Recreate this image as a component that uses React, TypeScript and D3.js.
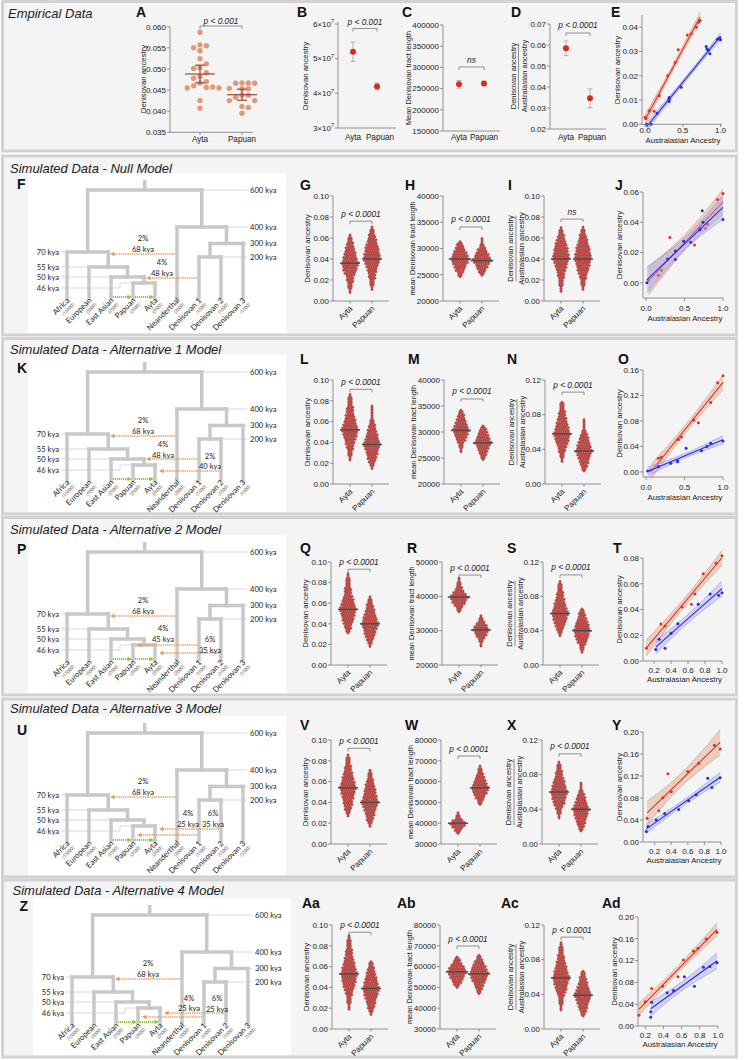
import React from 'react';
import * as d3 from 'd3';

type Swarm = { med: number; k: [number, number][] };
type Pt = [number, number];
type Mig = { pct: string; time: string; src: string; dst: number; y: number; lx: number; ly: [number, number] };

const SANS = "'Liberation Sans', Arial, Helvetica, sans-serif";
const TREEF = "Lato, 'Open Sans', 'DejaVu Sans', sans-serif";

// ---------------- DATA ----------------
const groups = ['Ayta', 'Papuan'];

// Empirical A (individual Denisovan ancestry)
const empA_Ayta = [0.0587, 0.0557, 0.0555, 0.055, 0.0543, 0.0524, 0.0512, 0.0503, 0.0501, 0.0491, 0.0482, 0.0478, 0.047, 0.0467, 0.046, 0.0456, 0.0455, 0.0455, 0.0457, 0.0425, 0.0407];
const empA_Papuan = [0.0467, 0.0466, 0.0466, 0.0467, 0.0454, 0.0453, 0.0453, 0.0438, 0.0438, 0.0433, 0.0425, 0.0425, 0.0411, 0.0409, 0.0395];
const empA_mean = [0.0488, 0.0439];
const empA_err = [0.0021, 0.0013];
const empA_ticks = [0.035, 0.04, 0.045, 0.05, 0.055, 0.06];
// B
const empB_mean = [5.2e7, 4.2e7];
const empB_err = [0.28e7, 0.1e7];
const empB_ticks = [3e7, 4e7, 5e7, 6e7];
// C
const empC_mean = [260000, 262000];
const empC_err = [9000, 5000];
const empC_ticks = [150000, 200000, 250000, 300000, 350000, 400000];
// D
const empD_mean = [0.0584, 0.0346];
const empD_err = [0.0035, 0.0045];
const empD_ticks = [0.02, 0.03, 0.04, 0.05, 0.06, 0.07];
// E
const empE_red: Pt[] = [[0.0, 0.0029], [0.01, 0.0024], [0.058, 0.0056], [0.12, 0.0054], [0.19, 0.0118], [0.3, 0.02], [0.4, 0.0254], [0.44, 0.0307], [0.56, 0.0368], [0.61, 0.0373], [0.68, 0.04], [0.71, 0.042], [0.73, 0.0427]];
const empE_blue: Pt[] = [[0.02, 0.0], [0.08, 0.0], [0.16, 0.0045], [0.32, 0.0094], [0.32, 0.0103], [0.32, 0.011], [0.48, 0.0153], [0.81, 0.032], [0.82, 0.031], [0.84, 0.0305], [0.86, 0.029], [0.96, 0.035], [0.99, 0.0355], [1.0, 0.0348]];

// Simulated swarms: [value, dots per row]
const swG: Swarm[] = [
  { med: 0.036, k: [[0.008, 1], [0.015, 2], [0.022, 3], [0.03, 6], [0.036, 7], [0.045, 5], [0.053, 3], [0.058, 2], [0.063, 1]] },
  { med: 0.040, k: [[0.011, 1], [0.018, 2], [0.025, 3], [0.033, 5], [0.04, 7], [0.05, 6], [0.06, 3], [0.066, 2], [0.071, 1]] },
];
const swH: Swarm[] = [
  { med: 28000, k: [[24600, 1], [25500, 3], [27000, 6], [28000, 8], [29000, 6], [30500, 3], [31500, 1]] },
  { med: 27700, k: [[24900, 1], [26000, 4], [27000, 6], [27700, 8], [28800, 6], [30000, 3], [31000, 1], [32000, 1]] },
];
const swI: Swarm[] = [
  { med: 0.040, k: [[0.009, 1], [0.02, 2], [0.03, 4], [0.04, 7], [0.05, 6], [0.06, 3], [0.066, 2], [0.07, 1]] },
  { med: 0.040, k: [[0.011, 1], [0.02, 2], [0.03, 5], [0.04, 7], [0.05, 6], [0.06, 3], [0.066, 2], [0.071, 1]] },
];
const swL: Swarm[] = [
  { med: 0.052, k: [[0.023, 1], [0.03, 2], [0.04, 4], [0.052, 7], [0.06, 5], [0.07, 3], [0.08, 2], [0.087, 1]] },
  { med: 0.038, k: [[0.015, 1], [0.022, 3], [0.03, 5], [0.038, 7], [0.045, 5], [0.055, 3], [0.065, 1], [0.075, 1]] },
];
const swM: Swarm[] = [
  { med: 30300, k: [[26200, 1], [27500, 2], [29000, 5], [30300, 7], [31500, 5], [33000, 3], [34500, 1]] },
  { med: 27900, k: [[24700, 1], [25800, 3], [27000, 5], [27900, 7], [29000, 5], [30300, 3], [31400, 1]] },
];
const swN: Swarm[] = [
  { med: 0.058, k: [[0.026, 1], [0.035, 2], [0.047, 5], [0.058, 7], [0.068, 5], [0.08, 3], [0.09, 2], [0.096, 1]] },
  { med: 0.038, k: [[0.015, 1], [0.022, 3], [0.03, 5], [0.038, 7], [0.047, 5], [0.057, 3], [0.065, 1], [0.075, 1]] },
];
const swQ: Swarm[] = [
  { med: 0.054, k: [[0.031, 1], [0.037, 3], [0.045, 5], [0.054, 7], [0.062, 5], [0.07, 3], [0.08, 2], [0.089, 1]] },
  { med: 0.040, k: [[0.018, 1], [0.025, 3], [0.032, 5], [0.04, 7], [0.048, 5], [0.056, 3], [0.062, 2], [0.067, 1]] },
];
const swR: Swarm[] = [
  { med: 39800, k: [[35500, 1], [37000, 3], [38500, 6], [39800, 8], [41000, 5], [43000, 2], [45300, 1]] },
  { med: 30200, k: [[25500, 1], [27500, 2], [29000, 5], [30200, 7], [31500, 5], [33000, 2], [34500, 1]] },
];
const swS: Swarm[] = [
  { med: 0.060, k: [[0.034, 1], [0.042, 3], [0.05, 5], [0.06, 7], [0.07, 5], [0.08, 3], [0.09, 2], [0.098, 1]] },
  { med: 0.040, k: [[0.015, 1], [0.022, 2], [0.03, 5], [0.04, 7], [0.05, 5], [0.058, 3], [0.063, 2], [0.067, 1]] },
];
const swV: Swarm[] = [
  { med: 0.054, k: [[0.027, 1], [0.035, 3], [0.045, 5], [0.054, 7], [0.062, 5], [0.072, 3], [0.08, 2], [0.086, 1]] },
  { med: 0.040, k: [[0.017, 1], [0.025, 3], [0.033, 5], [0.04, 7], [0.05, 5], [0.06, 3], [0.066, 2], [0.071, 1]] },
];
const swW: Swarm[] = [
  { med: 40000, k: [[35000, 1], [37000, 3], [39000, 6], [40000, 7], [41500, 4], [43000, 2], [45000, 1]] },
  { med: 57000, k: [[49000, 1], [51500, 3], [54500, 6], [57000, 7], [60000, 5], [63000, 3], [65500, 2], [67500, 1]] },
];
const swX: Swarm[] = [
  { med: 0.060, k: [[0.03, 1], [0.038, 2], [0.048, 5], [0.06, 7], [0.07, 5], [0.08, 3], [0.09, 2], [0.095, 1]] },
  { med: 0.040, k: [[0.015, 1], [0.022, 3], [0.03, 5], [0.04, 7], [0.048, 5], [0.056, 3], [0.065, 1], [0.071, 1]] },
];
const swAa: Swarm[] = [
  { med: 0.053, k: [[0.019, 1], [0.03, 2], [0.042, 5], [0.053, 7], [0.062, 5], [0.072, 3], [0.08, 2], [0.091, 1]] },
  { med: 0.039, k: [[0.014, 1], [0.022, 3], [0.03, 5], [0.039, 7], [0.048, 5], [0.057, 3], [0.063, 2], [0.066, 1]] },
];
const swAb: Swarm[] = [
  { med: 57500, k: [[50000, 1], [52500, 4], [55000, 6], [57500, 8], [60000, 6], [62500, 3], [65000, 1]] },
  { med: 56500, k: [[47000, 1], [50000, 3], [53500, 6], [56500, 8], [59500, 6], [63000, 3], [66000, 1]] },
];
const swAc: Swarm[] = [
  { med: 0.059, k: [[0.022, 1], [0.035, 2], [0.048, 5], [0.059, 7], [0.07, 5], [0.08, 3], [0.09, 2], [0.101, 1]] },
  { med: 0.039, k: [[0.015, 1], [0.022, 3], [0.03, 5], [0.039, 7], [0.048, 5], [0.056, 3], [0.063, 2], [0.067, 1]] },
];

// Simulated scatter (Ayta = red, Papuan = blue)
const scJ_red: Pt[] = [[0.03, 0.0015], [0.16, 0.005], [0.2, 0.0084], [0.31, 0.03], [0.63, 0.025], [0.7, 0.036], [0.77, 0.036], [0.8, 0.0387], [0.93, 0.055], [1.0, 0.059]];
const scJ_blue: Pt[] = [[0.01, 0.0], [0.28, 0.0158], [0.38, 0.021], [0.38, 0.0154], [0.49, 0.0275], [0.58, 0.0268], [0.73, 0.0477], [0.74, 0.04], [0.7, 0.035], [1.0, 0.0418]];
const scO_red: Pt[] = [[0.06, 0.003], [0.16, 0.0215], [0.2, 0.023], [0.42, 0.051], [0.46, 0.055], [0.62, 0.0815], [0.68, 0.077], [0.84, 0.109], [0.93, 0.14], [1.0, 0.151]];
const scO_blue: Pt[] = [[0.02, 0.0016], [0.16, 0.0084], [0.32, 0.0136], [0.41, 0.0177], [0.41, 0.016], [0.52, 0.037], [0.72, 0.0334], [0.79, 0.0397], [0.84, 0.045], [1.0, 0.0486]];
const scT_red: Pt[] = [[0.11, 0.0099], [0.28, 0.0288], [0.33, 0.0272], [0.53, 0.042], [0.64, 0.044], [0.68, 0.052], [0.78, 0.0677], [0.93, 0.076], [1.0, 0.0817]];
const scT_blue: Pt[] = [[0.22, 0.009], [0.26, 0.0169], [0.33, 0.01], [0.4, 0.0215], [0.48, 0.029], [0.72, 0.044], [0.86, 0.052], [0.96, 0.051], [1.0, 0.053]];
const scY_red: Pt[] = [[0.11, 0.043], [0.25, 0.057], [0.3, 0.0805], [0.36, 0.124], [0.4, 0.0915], [0.6, 0.128], [0.73, 0.143], [0.92, 0.176], [0.99, 0.169]];
const scY_blue: Pt[] = [[0.1, 0.019], [0.12, 0.028], [0.22, 0.04], [0.32, 0.052], [0.49, 0.059], [0.61, 0.075], [0.7, 0.086], [0.84, 0.116], [0.89, 0.099], [0.99, 0.117]];
const scAd_red: Pt[] = [[0.13, 0.0196], [0.2, 0.0446], [0.27, 0.069], [0.39, 0.073], [0.56, 0.0905], [0.62, 0.121], [0.73, 0.1376], [0.78, 0.1425], [0.87, 0.1596], [0.99, 0.172]];
const scAd_blue: Pt[] = [[0.26, 0.026], [0.26, 0.016], [0.27, 0.0435], [0.44, 0.061], [0.51, 0.065], [0.63, 0.0905], [0.74, 0.073], [0.84, 0.108], [0.91, 0.109], [0.99, 0.116]];

// Tree
const treeLeaves = ['Africa', 'European', 'East Asian', 'Papuan', 'Ayta', 'Neanderthal', 'Denisovan 1', 'Denisovan 2', 'Denisovan 3'];
const treeLeafN = ['15000', '5000', '2500', '3500', '3500', '2000', '1500', '1500', '1500'];
const treeMerges: [number, string, string, string][] = [
  [46, 'Papuan', 'Ayta', 'PA'],
  [50, 'East Asian', 'PA', 'EPA'],
  [55, 'European', 'EPA', 'NAF'],
  [70, 'Africa', 'NAF', 'AMH'],
  [200, 'Denisovan 1', 'Denisovan 2', 'D12'],
  [300, 'D12', 'Denisovan 3', 'DEN'],
  [400, 'Neanderthal', 'DEN', 'ARC'],
  [600, 'AMH', 'ARC', 'ROOT'],
];
const treeTimes = [600, 400, 300, 200, 70, 55, 50, 46, 0];
const leftTimes = [70, 55, 50, 46];
const rightTimes = [600, 400, 300, 200];

const mig68: Mig = { pct: '2%', time: '68 kya', src: 'Neanderthal', dst: 110, y: 254, lx: 143, ly: [238, 249] };
const migNull: Mig[] = [mig68, { pct: '4%', time: '48 kya', src: 'Denisovan 1', dst: 146, y: 278, lx: 162, ly: [262, 273] }];
const migAlt1: Mig[] = [mig68,
  { pct: '4%', time: '48 kya', src: 'Denisovan 1', dst: 146, y: 277, lx: 163, ly: [262, 273] },
  { pct: '2%', time: '40 kya', src: 'Denisovan 2', dst: 159, y: 289, lx: 210, ly: [274, 284] }];
const migAlt2: Mig[] = [mig68,
  { pct: '4%', time: '45 kya', src: 'Denisovan 1', dst: 137, y: 283, lx: 163, ly: [266, 277] },
  { pct: '6%', time: '35 kya', src: 'Denisovan 2', dst: 159, y: 291, lx: 210, ly: [277, 288] }];
const migAlt3: Mig[] = [mig68,
  { pct: '6%', time: '35 kya', src: 'Denisovan 2', dst: 159, y: 286, lx: 213, ly: [270, 281] },
  { pct: '4%', time: '25 kya', src: 'Denisovan 1', dst: 137, y: 292, lx: 188, ly: [270, 281] }];
const migAlt4: Mig[] = [mig68,
  { pct: '6%', time: '25 kya', src: 'Denisovan 2', dst: 159, y: 288, lx: 212, ly: [273, 284] },
  { pct: '4%', time: '25 kya', src: 'Denisovan 1', dst: 137, y: 292, lx: 184, ly: [273, 283] }];

const simModels = [
  { title: 'Simulated Data - Null Model', tree: 'F', letters: ['G', 'H', 'I', 'J'], sw: [swG, swH, swI], p: ['p < 0.0001', 'p < 0.0001', 'ns'], br: [0.076, 34100, 0.078],
    dom: [[0, 0.1], [20000, 40000], [0, 0.1]], step: [0.02, 5000, 0.02], red: scJ_red, blue: scJ_blue, sxDom: [-0.04, 1], sxTicks: [0, 0.5, 1], syDom: [-0.01, 0.06], syTicks: [0, 0.02, 0.04, 0.06], mig: migNull },
  { title: 'Simulated Data - Alternative 1 Model', tree: 'K', letters: ['L', 'M', 'N', 'O'], sw: [swL, swM, swN], p: ['p < 0.0001', 'p < 0.0001', 'p < 0.0001'], br: [0.091, 36350, 0.106],
    dom: [[0, 0.1], [20000, 40000], [0, 0.12]], step: [0.02, 5000, 0.04], red: scO_red, blue: scO_blue, sxDom: [-0.04, 1], sxTicks: [0, 0.5, 1], syDom: [-0.008, 0.16], syTicks: [0, 0.04, 0.08, 0.12, 0.16], mig: migAlt1 },
  { title: 'Simulated Data - Alternative 2 Model', tree: 'P', letters: ['Q', 'R', 'S', 'T'], sw: [swQ, swR, swS], p: ['p < 0.0001', 'p < 0.0001', 'p < 0.0001'], br: [0.093, 46200, 0.105],
    dom: [[0, 0.1], [20000, 50000], [0, 0.12]], step: [0.02, 10000, 0.04], red: scT_red, blue: scT_blue, sxDom: [0.07, 1], sxTicks: [0.2, 0.4, 0.6, 0.8, 1], syDom: [0, 0.08], syTicks: [0, 0.02, 0.04, 0.06, 0.08], mig: migAlt2 },
  { title: 'Simulated Data - Alternative 3 Model', tree: 'U', letters: ['V', 'W', 'X', 'Y'], sw: [swV, swW, swX], p: ['p < 0.0001', 'p < 0.0001', 'p < 0.0001'], br: [0.092, 72300, 0.104],
    dom: [[0, 0.1], [30000, 80000], [0, 0.12]], step: [0.02, 10000, 0.04], red: scY_red, blue: scY_blue, sxDom: [0.06, 1], sxTicks: [0.2, 0.4, 0.6, 0.8, 1], syDom: [0, 0.2], syTicks: [0, 0.04, 0.08, 0.12, 0.16, 0.2], mig: migAlt3 },
  { title: 'Simulated Data - Alternative 4 Model', tree: 'Z', letters: ['Aa', 'Ab', 'Ac', 'Ad'], sw: [swAa, swAb, swAc], p: ['p < 0.0001', 'p < 0.0001', 'p < 0.0001'], br: [0.093, 69900, 0.106],
    dom: [[0, 0.1], [30000, 80000], [0, 0.12]], step: [0.02, 10000, 0.04], red: scAd_red, blue: scAd_blue, sxDom: [0.12, 1], sxTicks: [0.2, 0.4, 0.6, 0.8, 1], syDom: [0, 0.2], syTicks: [0, 0.04, 0.08, 0.12, 0.16, 0.2], mig: migAlt4 },
];

// ---------------- LAYOUT ----------------
const rowLay = [
  { panel: [156, 335], top: 196, bottom: 301, ax: [333, 443, 544], lx: [300, 405, 508, 615], ly: 190, sx: [643, 723], sy: [298, 192], xlab: 305, xtitle: 316, title: 173, treeY: 189, dx: 0, dy: 0 },
  { panel: [338.5, 514], top: 380, bottom: 484, ax: [333, 444, 545], lx: [300, 408, 507, 618], ly: 364, sx: [643, 723], sy: [477, 370], xlab: 484, xtitle: 495, title: 354, treeY: 373, dx: 0, dy: 182 },
  { panel: [517.5, 695], top: 562, bottom: 665, ax: [331, 442, 543], lx: [300, 407, 507, 613], ly: 553, sx: [643, 722], sy: [661, 558], xlab: 667, xtitle: 677, title: 534, treeY: 554, dx: 0, dy: 362 },
  { panel: [699, 877], top: 740, bottom: 844, ax: [331, 441, 542], lx: [300, 405, 507, 612], ly: 730, sx: [643, 721], sy: [842, 732], xlab: 848, xtitle: 858, title: 713, treeY: 735, dx: 0, dy: 543 },
  { panel: [880, 1057], top: 925, bottom: 1029, ax: [332, 440, 544], lx: [302, 397, 501, 602], ly: 908, sx: [638, 718], sy: [1026, 917], xlab: 1032, xtitle: 1042, title: 895, treeY: 911, dx: 5, dy: 725 },
];

const RED = '#d8302a';
const BLUE = '#2a2ae6';
const AX = '#7a7a7a';
const TXT = '#222';
const TICKFS = 8;
const LETTERFS = 14;
const TITLEFS = 13;

const f2 = d3.format('.2f');
const f3 = d3.format('.3f');
const fInt = d3.format('d');
const f1 = d3.format('.1f');

// ---------------- HELPERS ----------------
function fit(pts: Pt[]) {
  const n = pts.length;
  const mx = d3.mean(pts, p => p[0]) as number;
  const my = d3.mean(pts, p => p[1]) as number;
  const sxx = d3.sum(pts, p => (p[0] - mx) ** 2);
  const sxy = d3.sum(pts, p => (p[0] - mx) * (p[1] - my));
  const b = sxy / sxx;
  const a = my - b * mx;
  const s = Math.sqrt(d3.sum(pts, p => (p[1] - a - b * p[0]) ** 2) / (n - 2));
  return { a, b, se: (x: number) => s * Math.sqrt(1 / n + (x - mx) ** 2 / sxx) };
}

function YAxis({ x, y, ticks, fmt, tickLen = 3, fs = TICKFS }: { x: number; y: d3.ScaleLinear<number, number>; ticks: number[]; fmt: (n: number) => string; tickLen?: number; fs?: number }) {
  const r = y.range();
  return (
    <g>
      <line x1={x} x2={x} y1={r[0]} y2={r[1]} stroke={AX} strokeWidth={0.8} />
      {ticks.map((t, i) => (
        <g key={i}>
          <line x1={x - tickLen} x2={x} y1={y(t)} y2={y(t)} stroke={AX} strokeWidth={0.8} />
          <text x={x - tickLen - 1} y={y(t)} dy="0.35em" textAnchor="end" fontSize={fs} fill={TXT}>{fmt(t)}</text>
        </g>
      ))}
    </g>
  );
}

function VLabel({ x, y, text, fs = 7.8 }: { x: number; y: number; text: string; fs?: number }) {
  return <text transform={`translate(${x},${y}) rotate(-90)`} textAnchor="middle" dy="0.35em" fontSize={fs} fill={TXT}>{text}</text>;
}

function FracLabel({ x, y, fs = 7.6 }: { x: number; y: number; fs?: number }) {
  return (
    <g>
      <VLabel x={x - 5.5} y={y} text="Denisovan ancestry" fs={fs} />
      <line x1={x} x2={x} y1={y - 33} y2={y + 33} stroke="#444" strokeWidth={0.6} />
      <VLabel x={x + 5.5} y={y} text="Australasian ancestry" fs={fs} />
    </g>
  );
}

function Bracket({ x0, x1, y, label, dyText = -4 }: { x0: number; x1: number; y: number; label: string; dyText?: number }) {
  return (
    <g>
      <path d={`M${x0},${y + 3}V${y}H${x1}V${y + 3}`} fill="none" stroke="#666" strokeWidth={0.7} />
      <text x={(x0 + x1) / 2} y={y + dyText} textAnchor="middle" fontSize={8.3} fontStyle="italic" fill={TXT}>{label}</text>
    </g>
  );
}

function SwarmDots({ s, cx, y }: { s: Swarm; cx: number; y: d3.ScaleLinear<number, number> }) {
  const interp = d3.scaleLinear().domain(s.k.map(d => d[0])).range(s.k.map(d => d[1]));
  const lo = s.k[0][0];
  const hi = s.k[s.k.length - 1][0];
  const dots: [number, number][] = [];
  let row = 0;
  for (let py = y(lo); py >= y(hi) - 0.01; py -= 1.6, row++) {
    const n = Math.max(1, Math.round(interp(y.invert(py))));
    const shift = n > 2 ? (row % 2 ? 0.55 : -0.55) : 0;
    for (let i = 0; i < n; i++) dots.push([cx + (i - (n - 1) / 2) * 2.3 + shift, py]);
  }
  const half = (Math.round(interp(s.med)) * 2.3) / 2 + 2;
  return (
    <g>
      {dots.map((d, i) => <circle key={i} cx={d[0]} cy={d[1]} r={1.25} fill="#d93430" stroke="#7c7c7c" strokeWidth={0.35} />)}
      <line x1={cx - half} x2={cx + half} y1={y(s.med)} y2={y(s.med)} stroke="#4d4d4d" strokeWidth={1.5} />
    </g>
  );
}

function SwarmChart({ ax, top, bottom, dom, step, fmt, sw, br, p, kind }: { ax: number; top: number; bottom: number; dom: number[]; step: number; fmt: (n: number) => string; sw: Swarm[]; br: number; p: string; kind: number }) {
  const y = d3.scaleLinear().domain(dom).range([bottom, top]);
  const ticks = d3.range(dom[0], dom[1] + step / 2, step);
  const cx = [ax + 17, ax + 39];
  const mid = (top + bottom) / 2;
  return (
    <g>
      {sw.map((s, i) => <SwarmDots key={i} s={s} cx={cx[i]} y={y} />)}
      <YAxis x={ax} y={y} ticks={ticks} fmt={fmt} />
      <line x1={ax} x2={ax + 56} y1={bottom} y2={bottom} stroke={AX} strokeWidth={0.8} />
      {cx.map((c, i) => <line key={i} x1={c} x2={c} y1={bottom} y2={bottom + 2.5} stroke={AX} strokeWidth={0.8} />)}
      {groups.map((g, i) => (
        <text key={g} transform={`translate(${cx[i] + 3},${bottom + 8}) rotate(-45)`} textAnchor="end" fontSize={8} fill={TXT}>{g}</text>
      ))}
      <Bracket x0={cx[0]} x1={cx[1]} y={y(br)} label={p} dyText={-4.5} />
      {kind === 0 && <VLabel x={ax - 26} y={mid} text="Denisovan ancestry" />}
      {kind === 1 && <VLabel x={ax - 31} y={mid} text="mean Denisovan tract length" fs={7.4} />}
      {kind === 2 && <FracLabel x={ax - 28} y={mid} />}
    </g>
  );
}

function FitLayer({ pts, x, y, color, band, edge }: { pts: Pt[]; x: d3.ScaleLinear<number, number>; y: d3.ScaleLinear<number, number>; color: string; band: string; edge: string }) {
  const f = fit(pts);
  const ext = d3.extent(pts, p => p[0]) as [number, number];
  const xs = d3.range(0, 41).map(i => ext[0] + (ext[1] - ext[0]) * i / 40);
  const tq = 2.3;
  const area = d3.area<number>().x(v => x(v)).y0(v => y(f.a + f.b * v - tq * f.se(v))).y1(v => y(f.a + f.b * v + tq * f.se(v)));
  const lo = d3.line<number>().x(v => x(v)).y(v => y(f.a + f.b * v - tq * f.se(v)));
  const hi = d3.line<number>().x(v => x(v)).y(v => y(f.a + f.b * v + tq * f.se(v)));
  return (
    <g>
      <path d={area(xs) || ''} fill={band} opacity={0.45} />
      <path d={lo(xs) || ''} fill="none" stroke={edge} strokeWidth={0.5} />
      <path d={hi(xs) || ''} fill="none" stroke={edge} strokeWidth={0.5} />
      <line x1={x(ext[0])} x2={x(ext[1])} y1={y(f.a + f.b * ext[0])} y2={y(f.a + f.b * ext[1])} stroke={color} strokeWidth={1.1} />
      {pts.map((p, i) => <circle key={i} cx={x(p[0])} cy={y(p[1])} r={1.5} fill={color} />)}
    </g>
  );
}

function Scatter({ red, blue, x, y, xTicks, xFmt, yTicks, yFmt, axisX, xlabY, xtitleY }: { red: Pt[]; blue: Pt[]; x: d3.ScaleLinear<number, number>; y: d3.ScaleLinear<number, number>; xTicks: number[]; xFmt: (n: number) => string; yTicks: number[]; yFmt: (n: number) => string; axisX: number; xlabY: number; xtitleY: number }) {
  const yr = y.range();
  const xr = x.range();
  return (
    <g>
      <FitLayer pts={red} x={x} y={y} color="#e0302a" band="#dd9f7e" edge="#d98b6b" />
      <FitLayer pts={blue} x={x} y={y} color={BLUE} band="#a9a9f2" edge="#8080ee" />
      <YAxis x={axisX} y={y} ticks={yTicks} fmt={yFmt} />
      <line x1={axisX} x2={xr[1]} y1={yr[0]} y2={yr[0]} stroke={AX} strokeWidth={0.8} />
      {xTicks.map((t, i) => (
        <g key={i}>
          <line x1={x(t)} x2={x(t)} y1={yr[0]} y2={yr[0] + 3} stroke={AX} strokeWidth={0.8} />
          <text x={x(t)} y={xlabY} dy="0.7em" textAnchor="middle" fontSize={TICKFS} fill={TXT}>{xFmt(t)}</text>
        </g>
      ))}
      <text x={(xr[0] + xr[1]) / 2 + 2} y={xtitleY} dy="0.7em" textAnchor="middle" fontSize={7.8} fill={TXT}>Australasian Ancestry</text>
      <VLabel x={axisX - 24} y={(yr[0] + yr[1]) / 2} text="Denisovan ancestry" />
    </g>
  );
}

function Tree({ dx, dy, boxBottom, migs }: { dx: number; dy: number; boxBottom: number; migs: Mig[] }) {
  const xL = d3.scalePoint<string>().domain(treeLeaves).range([67, 243]);
  const ty = d3.scaleOrdinal<number, number>().domain(treeTimes).range([190, 227, 243.5, 257, 252, 267, 277, 283, 298]);
  const pos: Record<string, { x: number; y: number }> = {};
  const parentY: Record<string, number> = {};
  treeLeaves.forEach(l => { pos[l] = { x: xL(l) as number, y: ty(0) }; });
  const mergeOf: Record<number, [string, string]> = {};
  treeMerges.forEach(([t, a, b, id]) => {
    pos[id] = { x: (pos[a].x + pos[b].x) / 2, y: ty(t) };
    parentY[a] = ty(t);
    parentY[b] = ty(t);
    mergeOf[t] = [a, b];
  });
  const LC = '#c8c8c8';
  const thin = '#d4d4d4';
  const OR = '#e39a5d';
  const GR = '#8dc641';
  const greenY = 297;
  return (
    <g transform={`translate(${dx},${dy})`} fontFamily={TREEF}>
      <rect x={28} y={173} width={258} height={boxBottom - dy - 173} fill="#ffffff" />
      {leftTimes.map(t => {
        const a = mergeOf[t][0];
        const yy = ty(t);
        if (t === 46) {
          return (
            <g key={t}>
              <path d={`M61,${yy + 5}H120V${yy}H${pos[a].x - 2}`} fill="none" stroke={thin} strokeWidth={0.9} />
              <text x={59} y={yy + 5} dy="0.35em" textAnchor="end" fontSize={7.6} fill={TXT}>{`${t} kya`}</text>
            </g>
          );
        }
        return (
          <g key={t}>
            <line x1={61} x2={pos[a].x - 2} y1={yy} y2={yy} stroke={thin} strokeWidth={0.9} />
            <text x={59} y={yy} dy="0.35em" textAnchor="end" fontSize={7.6} fill={TXT}>{`${t} kya`}</text>
          </g>
        );
      })}
      {rightTimes.map(t => {
        const b = mergeOf[t][1];
        const yy = ty(t);
        return (
          <g key={t}>
            <line x1={pos[b].x + 2} x2={247} y1={yy} y2={yy} stroke={thin} strokeWidth={0.9} />
            <text x={250} y={yy} dy="0.35em" textAnchor="start" fontSize={7.6} fill={TXT}>{`${t} kya`}</text>
          </g>
        );
      })}
      {Object.keys(pos).map(k => (
        k === 'ROOT'
          ? <line key={k} x1={pos[k].x} x2={pos[k].x} y1={pos[k].y} y2={pos[k].y - 10} stroke={LC} strokeWidth={3.5} />
          : <line key={k} x1={pos[k].x} x2={pos[k].x} y1={pos[k].y} y2={parentY[k]} stroke={LC} strokeWidth={3.5} strokeLinecap="square" />
      ))}
      {treeMerges.map(([t, a, b]) => (
        <line key={t} x1={pos[a].x} x2={pos[b].x} y1={ty(t)} y2={ty(t)} stroke={LC} strokeWidth={3.5} strokeLinecap="square" />
      ))}
      {migs.map((m, i) => (
        <g key={i}>
          <line x1={pos[m.src].x - 2} x2={m.dst + 4} y1={m.y} y2={m.y} stroke={OR} strokeWidth={1.5} strokeDasharray="1.3 0.9" />
          <polygon points={`${m.dst},${m.y} ${m.dst + 4.5},${m.y - 2.3} ${m.dst + 4.5},${m.y + 2.3}`} fill={OR} />
          <text x={m.lx} y={m.ly[0]} dy="0.35em" textAnchor="middle" fontSize={7.6} fill={TXT}>{m.pct}</text>
          <text x={m.lx} y={m.ly[1]} dy="0.35em" textAnchor="middle" fontSize={7.6} fill={TXT}>{m.time}</text>
        </g>
      ))}
      {[['East Asian', 'Papuan'], ['Papuan', 'Ayta']].map(([a, b], i) => (
        <g key={i}>
          <line x1={pos[a].x + 2} x2={pos[b].x - 5} y1={greenY} y2={greenY} stroke={GR} strokeWidth={2} strokeDasharray="1.2 0.8" />
          <polygon points={`${pos[b].x - 1},${greenY} ${pos[b].x - 5.5},${greenY - 2.3} ${pos[b].x - 5.5},${greenY + 2.3}`} fill={GR} />
        </g>
      ))}
      {treeLeaves.map((l, i) => (
        <g key={l}>
          <text transform={`translate(${pos[l].x + 3},${301}) rotate(-45)`} textAnchor="end" fontSize={7.8} fill={TXT}>{l}</text>
          <text transform={`translate(${pos[l].x + 7.5},${305}) rotate(-45)`} textAnchor="end" fontSize={4.4} fill="#444">{`(${treeLeafN[i]})`}</text>
        </g>
      ))}
    </g>
  );
}

function beeswarm(vals: number[], y: (v: number) => number, cx: number, r: number) {
  const placed: { x: number; y: number }[] = [];
  const sorted = [...vals].sort((a, b) => b - a);
  for (const v of sorted) {
    const py = y(v);
    for (let k = 0; k < 40; k++) {
      const off = (k === 0 ? 0 : Math.ceil(k / 2) * (k % 2 ? 1 : -1)) * (r * 2.35);
      const px = cx + off;
      if (placed.every(q => (q.x - px) ** 2 + (q.y - py) ** 2 >= (2 * r + 0.3) ** 2)) {
        placed.push({ x: px, y: py });
        break;
      }
    }
  }
  return placed;
}

function ErrDot({ x, y, v, e, color = '#d52b24' }: { x: number; y: d3.ScaleLinear<number, number>; v: number; e: number; color?: string }) {
  return (
    <g>
      <line x1={x} x2={x} y1={y(v - e)} y2={y(v + e)} stroke="#aaaaaa" strokeWidth={0.9} />
      <line x1={x - 2.5} x2={x + 2.5} y1={y(v - e)} y2={y(v - e)} stroke="#aaaaaa" strokeWidth={0.9} />
      <line x1={x - 2.5} x2={x + 2.5} y1={y(v + e)} y2={y(v + e)} stroke="#aaaaaa" strokeWidth={0.9} />
      <circle cx={x} cy={y(v)} r={3} fill={color} />
    </g>
  );
}

function CatLabels({ xs, y }: { xs: number[]; y: number }) {
  return <g>{groups.map((g, i) => <text key={g} x={xs[i]} y={y} textAnchor="middle" fontSize={8.2} fill={TXT}>{g}</text>)}</g>;
}

function Empirical() {
  const yA = d3.scaleLinear().domain([0.035, 0.06]).range([132.3, 26.7]);
  const cxA = [200, 242];
  const dotsA = [beeswarm(empA_Ayta, yA, cxA[0], 2.7), beeswarm(empA_Papuan, yA, cxA[1], 2.7)];
  const yB = d3.scaleLinear().domain([3e7, 6e7]).range([128, 24]);
  const cxB = [353, 377];
  const yC = d3.scaleLinear().domain([150000, 400000]).range([131, 25]);
  const cxC = [459, 484];
  const yD = d3.scaleLinear().domain([0.02, 0.07]).range([129, 24]);
  const cxD = [566, 590];
  const xE = d3.scaleLinear().domain([-0.04, 1]).range([642, 720.5]);
  const yE = d3.scaleLinear().domain([0, 0.045]).range([124.3, 15]);
  return (
    <g>
      <text x={8} y={18} fontSize={TITLEFS} fontStyle="italic" fill={TXT}>Empirical Data</text>
      {[['A', 136], ['B', 297], ['C', 402], ['D', 511], ['E', 611]].map(([l, x]) => (
        <text key={l as string} x={x as number} y={17} fontSize={LETTERFS} fontWeight="bold" fill="#111">{l}</text>
      ))}
      {dotsA.map((ds, gi) => ds.map((d, i) => <circle key={`${gi}-${i}`} cx={d.x} cy={d.y} r={2.7} fill="#dd9a77" />))}
      {empA_mean.map((m, i) => (
        <g key={i}>
          <line x1={cxA[i] - 15} x2={cxA[i] + 15} y1={yA(m)} y2={yA(m)} stroke="#a3463b" strokeWidth={1.2} />
          <line x1={cxA[i]} x2={cxA[i]} y1={yA(m - empA_err[i])} y2={yA(m + empA_err[i])} stroke="#a3463b" strokeWidth={1.2} />
          <line x1={cxA[i] - 5} x2={cxA[i] + 5} y1={yA(m - empA_err[i])} y2={yA(m - empA_err[i])} stroke="#a3463b" strokeWidth={1.2} />
          <line x1={cxA[i] - 5} x2={cxA[i] + 5} y1={yA(m + empA_err[i])} y2={yA(m + empA_err[i])} stroke="#a3463b" strokeWidth={1.2} />
        </g>
      ))}
      <YAxis x={170} y={yA} ticks={empA_ticks} fmt={f3} />
      <line x1={170} x2={253} y1={132.3} y2={132.3} stroke={AX} strokeWidth={0.8} />
      {cxA.map((c, i) => <line key={i} x1={c} x2={c} y1={132.3} y2={135} stroke={AX} strokeWidth={0.8} />)}
      <CatLabels xs={cxA} y={142} />
      <Bracket x0={cxA[0]} x1={cxA[1]} y={26} label="p < 0.001" dyText={-2.5} />
      <VLabel x={143} y={79} text="Denisovan ancestry" />
      {empB_mean.map((m, i) => <ErrDot key={i} x={cxB[i]} y={yB} v={m} e={empB_err[i]} />)}
      <line x1={338} x2={338} y1={128} y2={22} stroke={AX} strokeWidth={0.8} />
      {empB_ticks.map((t, i) => (
        <g key={i}>
          <line x1={335} x2={338} y1={yB(t)} y2={yB(t)} stroke={AX} strokeWidth={0.8} />
          <text x={334} y={yB(t)} dy="0.35em" textAnchor="end" fontSize={TICKFS} fill={TXT}>
            {`${t / 1e7}×10`}<tspan dy="-3.5" fontSize={5.5}>7</tspan>
          </text>
        </g>
      ))}
      <line x1={338} x2={396} y1={128} y2={128} stroke={AX} strokeWidth={0.8} />
      <CatLabels xs={[353, 380]} y={140} />
      <Bracket x0={cxB[0]} x1={cxB[1]} y={28.5} label="p < 0.001" dyText={-4} />
      <VLabel x={305} y={76} text="Denisovan ancestry" />
      {empC_mean.map((m, i) => <ErrDot key={i} x={cxC[i]} y={yC} v={m} e={empC_err[i]} />)}
      <YAxis x={443} y={yC} ticks={empC_ticks} fmt={fInt} />
      <line x1={443} x2={500} y1={131} y2={131} stroke={AX} strokeWidth={0.8} />
      <CatLabels xs={cxC} y={140} />
      <Bracket x0={cxC[0]} x1={cxC[1]} y={67} label="ns" dyText={-4} />
      <VLabel x={408} y={78} text="Mean Denisovan tract length" fs={7.4} />
      {empD_mean.map((m, i) => <ErrDot key={i} x={cxD[i]} y={yD} v={m} e={empD_err[i]} />)}
      <YAxis x={550} y={yD} ticks={empD_ticks} fmt={f2} />
      <line x1={550} x2={606} y1={129} y2={129} stroke={AX} strokeWidth={0.8} />
      <CatLabels xs={[566, 592]} y={140} />
      <Bracket x0={cxD[0]} x1={cxD[1]} y={33} label="p < 0.0001" dyText={-5} />
      <FracLabel x={518.5} y={76} />
      <FitLayer pts={empE_red} x={xE} y={yE} color="#e0302a" band="#dd9f7e" edge="#d98b6b" />
      <FitLayer pts={empE_blue} x={xE} y={yE} color={BLUE} band="#a9a9f2" edge="#8080ee" />
      <YAxis x={642} y={yE} ticks={[0, 0.01, 0.02, 0.03, 0.04]} fmt={f2} />
      <line x1={642} x2={722} y1={124.3} y2={124.3} stroke={AX} strokeWidth={0.8} />
      {[0, 0.5, 1].map((t, i) => (
        <g key={i}>
          <line x1={xE(t)} x2={xE(t)} y1={124.3} y2={127} stroke={AX} strokeWidth={0.8} />
          <text x={xE(t)} y={127} dy="0.8em" textAnchor="middle" fontSize={TICKFS} fill={TXT}>{f1(t)}</text>
        </g>
      ))}
      <text x={683} y={138} dy="0.7em" textAnchor="middle" fontSize={7.8} fill={TXT}>Australasian Ancestry</text>
      <VLabel x={617} y={70} text="Denisovan ancestry" />
    </g>
  );
}

function SimRow({ m, L }: { m: typeof simModels[number]; L: typeof rowLay[number] }) {
  const fmts = m.step.map(s => (s >= 1000 ? fInt : f2));
  const sx = d3.scaleLinear().domain(m.sxDom).range(L.sx);
  const sy = d3.scaleLinear().domain(m.syDom).range(L.sy);
  return (
    <g>
      <Tree dx={L.dx} dy={L.dy} boxBottom={L.panel[1] - 2} migs={m.mig} />
      <text x={10 + L.dx / 2} y={L.title} fontSize={TITLEFS} fontStyle="italic" fill={TXT}>{m.title}</text>
      <text x={17 + L.dx / 2} y={L.treeY} fontSize={LETTERFS} fontWeight="bold" fill="#111">{m.tree}</text>
      {m.letters.map((l, i) => <text key={l} x={L.lx[i]} y={L.ly} fontSize={LETTERFS} fontWeight="bold" fill="#111">{l}</text>)}
      {m.sw.map((s, i) => (
        <SwarmChart key={i} ax={L.ax[i]} top={L.top} bottom={L.bottom} dom={m.dom[i]} step={m.step[i]} fmt={fmts[i]} sw={s} br={m.br[i]} p={m.p[i]} kind={i} />
      ))}
      <Scatter red={m.red} blue={m.blue} x={sx} y={sy} xTicks={m.sxTicks} xFmt={f1} yTicks={m.syTicks} yFmt={f2} axisX={L.sx[0]} xlabY={L.xlab} xtitleY={L.xtitle} />
    </g>
  );
}

export default function App() {
  const panels = [[1.5, 151], ...rowLay.map(r => r.panel)];
  return (
    <div style={{ position: 'absolute', left: 0, top: 0 }}>
      <svg width={745} height={1060} style={{ display: 'block', fontFamily: SANS, background: '#ffffff' }}>
        {panels.map((p, i) => (
          <rect key={i} x={2.5} y={p[0]} width={734} height={p[1] - p[0]} fill="#f4f4f4" stroke="#d2d2d2" strokeWidth={3} />
        ))}
        <Empirical />
        {simModels.map((m, i) => <SimRow key={i} m={m} L={rowLay[i]} />)}
      </svg>
    </div>
  );
}
